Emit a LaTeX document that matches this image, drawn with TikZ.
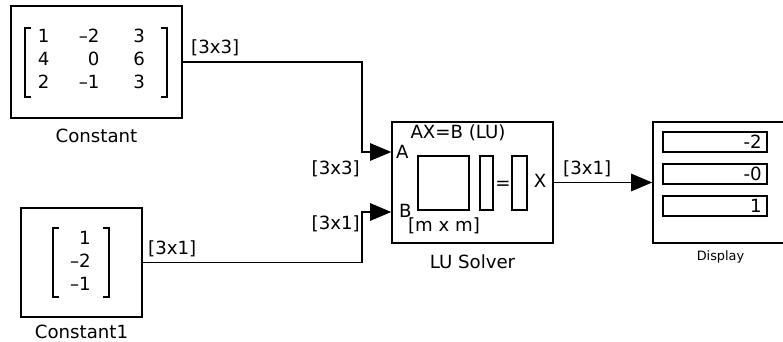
\documentclass[tikz,border=0pt]{standalone}
\usepackage{fontspec}
\setmainfont{DejaVu Sans}
\usetikzlibrary{positioning,arrows.meta}

\begin{document}
\begin{tikzpicture}[x=0.03cm, y=-0.03cm, >={Triangle[length=18pt,width=15pt]},
  every node/.style={font=\fontsize{15.5}{19.5}\selectfont, inner sep=0pt},
  blk/.style={draw, line width=1.4pt},
  sig/.style={->, line width=1pt},
  brk/.style={line width=1.2pt},
  field/.style={draw, line width=1.2pt, minimum width=3.12cm, minimum height=0.6cm, text width=2.8cm, align=right}]
  \useasboundingbox (0,0) rectangle (783,342);
  \clip (0,0) rectangle (783,342);

  \node[blk, minimum width=5.13cm, minimum height=3.36cm] (const) at (96.5,62) {};
  \node (cmat) at (91.5,61) {\begin{tabular}{@{}r@{\hspace{25pt}}r@{\hspace{29pt}}r@{}}1 & \textendash2 & 3\\ 4 & 0 & 6\\ 2 & \textendash1 & 3\end{tabular}};
  \draw[brk] (31,28) -- (25,28) -- (25,97) -- (31,97);
  \draw[brk] (161,28) -- (167,28) -- (167,97) -- (161,97);
  \node[below=0.3cm of const] (constlbl) {Constant};

  \node[blk, minimum width=3.63cm, minimum height=3.27cm] (const1) at (81.5,262.5) {};
  \node[anchor=east] (c1mat) at (91,263) {\begin{tabular}{@{}r@{}}1\\ \textendash2\\ \textendash1\end{tabular}};
  \draw[brk] (59,228) -- (53,228) -- (53,297) -- (59,297);
  \draw[brk] (103,228) -- (109,228) -- (109,297) -- (103,297);
  \node[below=0.22cm of const1] (const1lbl) {Constant1};

  \node[blk, minimum width=4.83cm, minimum height=3.63cm] (lu) at (472.5,182.5) {};
  \node (lutitle) at (458,133) {AX=B (LU)};
  \node[anchor=west] (pa) at (396,152) {A};
  \node[anchor=west] (pb) at (399,211) {B};
  \node (mxm) at (444,226) {[m x m]};
  \node (eq) at (503,185) {=};
  \node (px) at (540,181) {X};
  \draw[line width=1.1pt] (418,156) rectangle (469,210);
  \draw[line width=1.1pt] (480,156) rectangle (493,210);
  \draw[line width=1.1pt] (512,156) rectangle (527,210);
  \node[below=0.33cm of lu] (lulbl) {LU Solver};

  \node[blk, minimum width=4.05cm, minimum height=3.63cm] (disp) at (720.5,182.5) {};
  \foreach \v [count=\i] in {-2,-0,1}
    \node[field] (f\i) at (715,110+32*\i) {\v};
  \node[below=0.2cm of disp, font=\fontsize{11}{13}\selectfont] (displbl) {Display};

  \coordinate (bendA) at (362,152);
  \coordinate (bendB) at (362,212);
  \draw[sig] (const.east) -| (bendA) -- (bendA -| lu.west);
  \draw[sig] (const1.east) -| (bendB) -- (bendB -| lu.west);
  \draw[sig] (lu.east) -- (disp.west);

  \node[anchor=south west] (s1) at (191,56) {[3x3]};
  \node[anchor=north east] (s2) at (360,160) {[3x3]};
  \node[anchor=south west] (s3) at (148,257) {[3x1]};
  \node[anchor=south east] (s4) at (360,232) {[3x1]};
  \node[anchor=south west] (s5) at (563,177) {[3x1]};
\end{tikzpicture}
\end{document}
